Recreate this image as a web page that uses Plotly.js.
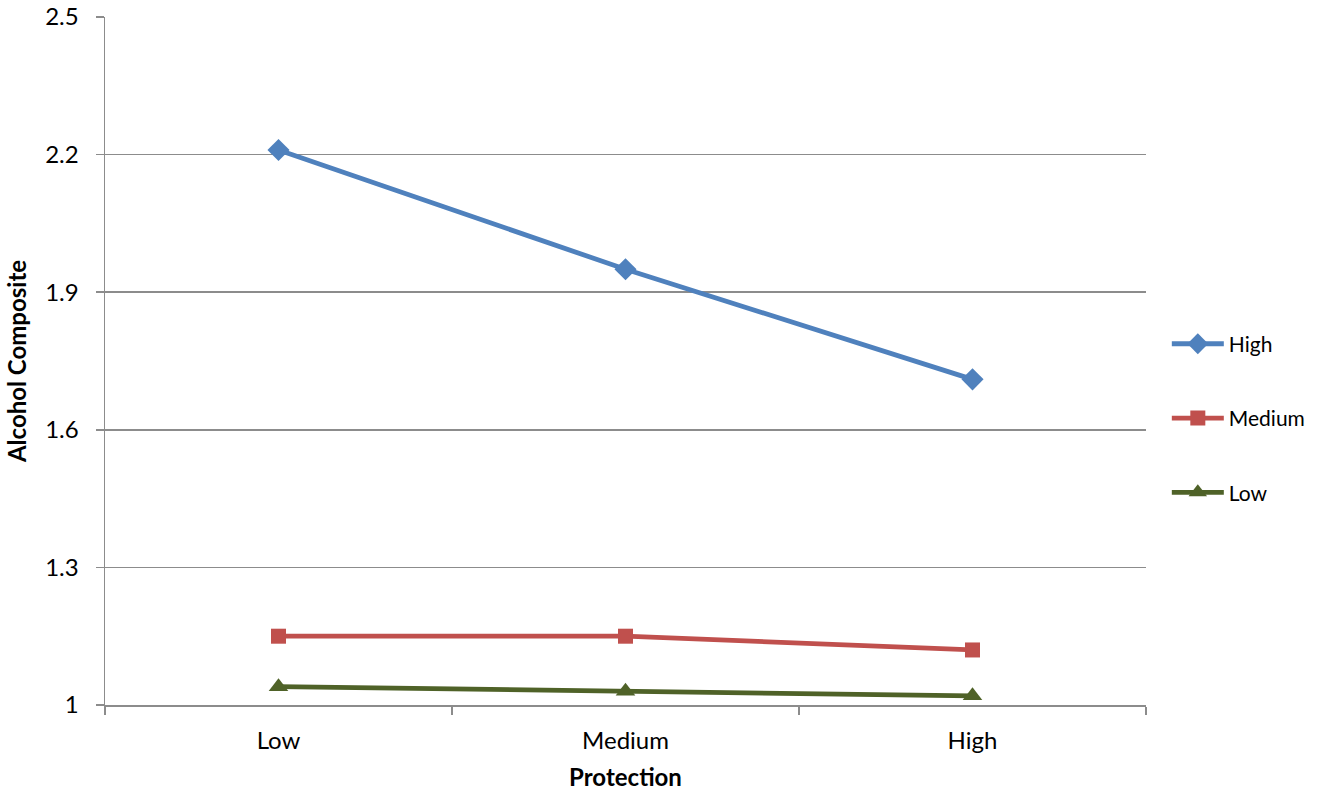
<!DOCTYPE html>
<html>
<head>
<meta charset="utf-8">
<script src="https://cdn.plot.ly/plotly-3.0.1.min.js"></script>
<style>
  html, body { margin: 0; padding: 0; background: #ffffff; }
  #chart { width: 1330px; height: 792px; }
</style>
</head>
<body>
<div id="chart"></div>
<script>
// Protection level on the x axis, one line per risk group
const categories = ['Low', 'Medium', 'High'];
const seriesNames = ['High', 'Medium', 'Low'];
const highValues = [2.21, 1.95, 1.71];
const mediumValues = [1.15, 1.15, 1.12];
const lowValues = [1.04, 1.03, 1.02];
const yTicks = [1, 1.3, 1.6, 1.9, 2.2, 2.5];

const fontFamily = 'Lato, "Open Sans", "DejaVu Sans", sans-serif';
const axisGrey = '#8c8c8c';
const textSize = 24;

function lineTrace(name, values, color, symbol, size, group) {
  return {
    type: 'scatter',
    mode: 'lines+markers',
    name: name,
    x: categories,
    y: values,
    legendgroup: group,
    line: { color: color, width: 4.8 },
    marker: { color: color, symbol: symbol, size: size, line: { width: 0 } }
  };
}

const data = [
  lineTrace(seriesNames[0], highValues, '#4F81BD', 'diamond', 17, 'g1'),
  lineTrace(seriesNames[1], mediumValues, '#C0504D', 'square', 15, 'g2'),
  lineTrace(seriesNames[2], lowValues, '#4F6228', 'triangle-up', 17, 'g3')
];

const layout = {
  width: 1330,
  height: 792,
  margin: { l: 105, r: 184, t: 17, b: 87 },
  paper_bgcolor: '#ffffff',
  plot_bgcolor: '#ffffff',
  font: { family: fontFamily, size: textSize, color: '#000000' },
  showlegend: true,
  legend: {
    x: 1.02, xanchor: 'left',
    y: 0.417, yanchor: 'middle',
    traceorder: 'grouped',
    tracegroupgap: 44,
    itemwidth: 52,
    font: { family: fontFamily, size: 21, color: '#000000' },
    bgcolor: 'rgba(0,0,0,0)'
  },
  xaxis: {
    type: 'category',
    categoryorder: 'array',
    categoryarray: categories,
    range: [-0.5, 2.5],
    tickson: 'boundaries',
    ticks: 'outside',
    ticklen: 8,
    tickwidth: 1.5,
    tickcolor: axisGrey,
    showline: true,
    linecolor: axisGrey,
    linewidth: 1.5,
    showgrid: false,
    zeroline: false,
    ticklabelstandoff: 14,
    tickfont: { family: fontFamily, size: textSize, color: '#000000' },
    title: {
      text: '<b>Protection</b>',
      font: { family: fontFamily, size: textSize, color: '#000000' },
      standoff: 16
    }
  },
  yaxis: {
    range: [1, 2.5],
    tickmode: 'array',
    tickvals: yTicks,
    ticktext: yTicks.map(String),
    ticks: 'outside',
    ticklen: 8,
    tickwidth: 1.5,
    tickcolor: axisGrey,
    showline: true,
    linecolor: axisGrey,
    linewidth: 1.5,
    showgrid: true,
    gridcolor: axisGrey,
    gridwidth: 1.5,
    zeroline: false,
    ticklabelstandoff: 12,
    tickfont: { family: fontFamily, size: textSize, color: '#000000' },
    title: {
      text: '<b>Alcohol Composite</b>',
      font: { family: fontFamily, size: textSize, color: '#000000' },
      standoff: 12
    }
  }
};

Plotly.newPlot('chart', data, layout, { displayModeBar: false, staticPlot: true });
</script>
</body>
</html>
